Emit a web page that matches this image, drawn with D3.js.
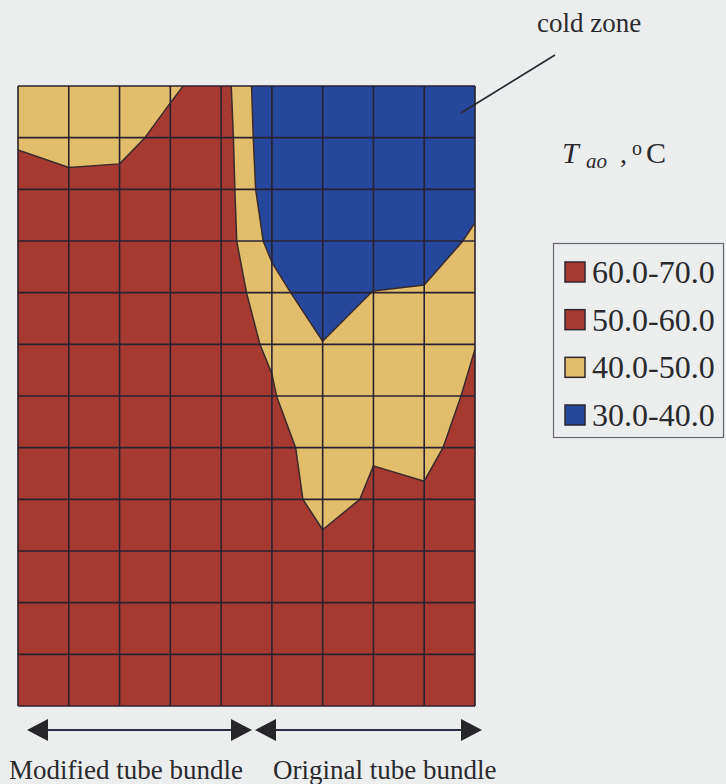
<!DOCTYPE html>
<html>
<head>
<meta charset="utf-8">
<script src="https://cdn.jsdelivr.net/npm/d3@7"></script>
<style>
  html, body { margin: 0; padding: 0; background: #eceeed; }
  svg { display: block; }
</style>
</head>
<body>
<svg id="chart" width="726" height="784"></svg>
<script>
// ---- data: air outlet temperature T_ao (°C) read at the grid nodes ----
// 10 node columns (left→right) x 13 node rows (top→bottom)
const nCols = 10;
const nRows = 13;
const row00 = [45, 45, 45.5, 48.3, 55, 30, 28, 27, 28, 32];
const row01 = [47, 47, 46.5, 53.5, 56.2, 30.6, 28, 27, 29, 34];
const row02 = [59.5, 52.2, 53.4, 56, 56.6, 32.2, 29, 28, 31, 36];
const row03 = [60, 58, 58, 57, 55.9, 36.7, 30, 28, 33, 42.2];
const row04 = [61, 60, 59, 58, 55.3, 44.7, 32, 40.4, 41.2, 46];
const row05 = [61, 61, 60, 58, 52.6, 49.2, 40.5, 45, 46, 49.8];
const row06 = [62, 61, 60, 59, 56, 50.6, 44, 46, 45, 51.9];
const row07 = [62, 62, 61, 60, 57, 54.4, 45, 49.4, 46.3, 56.3];
const row08 = [63, 62, 61, 60, 58, 54.7, 47, 51.1, 52, 58];
const row09 = [63, 63, 62, 61, 59, 57, 52.1, 54, 56, 59];
const row10 = [64, 63, 62, 61, 60, 59, 57, 58, 59, 60];
const row11 = [64, 64, 63, 62, 61, 60, 59, 60, 60, 61];
const row12 = [65, 64, 63, 62, 61, 61, 60, 61, 61, 62];
const rows = [row00, row01, row02, row03, row04, row05, row06, row07, row08, row09, row10, row11, row12];

const bandLow = [30, 40, 50, 60];
const bandHigh = [40, 50, 60, 70];
const bandLabels = ["30.0-40.0", "40.0-50.0", "50.0-60.0", "60.0-70.0"];
const bandColors = ["#25489d", "#e2bd6b", "#a73a30", "#a73a30"];
const regionLabels = ["Modified tube bundle", "Original tube bundle"];

const FONT = '"Liberation Serif", "DejaVu Serif", "Times New Roman", serif';
const INK = "#2a2a2e";

// ---- layout ----
const plot = { left: 18, top: 86, right: 475, bottom: 706 };
const svg = d3.select("#chart");

const x = d3.scaleLinear().domain([0, nCols - 1]).range([plot.left, plot.right]);
const y = d3.scaleLinear().domain([0, nRows - 1]).range([plot.top, plot.bottom]);

// d3.contours places value i at coordinate i+0.5
const proj = d3.geoTransform({
  point(px, py) { this.stream.point(x(px - 0.5), y(py - 0.5)); }
});
const path = d3.geoPath(proj);

const values = rows.flat();
const contours = d3.contours().size([nCols, nRows]).thresholds(bandLow.slice(1))(values);

svg.append("defs").append("clipPath").attr("id", "plotClip")
  .append("rect")
  .attr("x", plot.left).attr("y", plot.top)
  .attr("width", plot.right - plot.left).attr("height", plot.bottom - plot.top);

const g = svg.append("g").attr("clip-path", "url(#plotClip)");

// lowest band as the base
g.append("rect")
  .attr("x", plot.left).attr("y", plot.top)
  .attr("width", plot.right - plot.left).attr("height", plot.bottom - plot.top)
  .attr("fill", bandColors[0]);

g.selectAll("path.band")
  .data(contours)
  .join("path")
  .attr("class", "band")
  .attr("d", path)
  .attr("fill", (d, i) => bandColors[i + 1]);

// contour boundaries (40 and 50)
g.selectAll("path.iso")
  .data(contours.filter(c => c.value < 60))
  .join("path")
  .attr("class", "iso")
  .attr("d", path)
  .attr("fill", "none")
  .attr("stroke", "#3a2a2c")
  .attr("stroke-width", 1.5)
  .attr("stroke-linejoin", "round");

// grid
const gridColor = "#2a2230";
svg.append("g").selectAll("line")
  .data(d3.range(nCols))
  .join("line")
  .attr("x1", d => x(d)).attr("x2", d => x(d))
  .attr("y1", plot.top).attr("y2", plot.bottom)
  .attr("stroke", gridColor).attr("stroke-width", 1.6);

svg.append("g").selectAll("line")
  .data(d3.range(nRows))
  .join("line")
  .attr("y1", d => y(d)).attr("y2", d => y(d))
  .attr("x1", plot.left).attr("x2", plot.right)
  .attr("stroke", gridColor).attr("stroke-width", 1.6);

function label(xp, yp, size, txt, italic) {
  return svg.append("text")
    .attr("x", xp).attr("y", yp)
    .attr("font-family", FONT)
    .attr("font-size", size)
    .attr("font-style", italic ? "italic" : "normal")
    .attr("fill", INK)
    .text(txt);
}

// ---- annotations ----
label(537, 32, 27, "cold zone");
svg.append("line")
  .attr("x1", 555).attr("y1", 55).attr("x2", 461).attr("y2", 113)
  .attr("stroke", INK).attr("stroke-width", 1.6);

// T_ao , °C
label(562, 163, 30, "T", true);
label(586, 168, 21, "ao", true);
label(620, 163, 28, ",");
label(632, 155, 20, "o");
label(646, 163, 30, "C");

// legend (highest band first)
const legend = svg.append("g");
legend.append("rect")
  .attr("x", 553.5).attr("y", 243.5).attr("width", 170).attr("height", 194)
  .attr("fill", "none").attr("stroke", "#6a6a6e").attr("stroke-width", 1.2);

const order = d3.range(bandLabels.length).reverse();
const ly = d3.scalePoint().domain(order).range([272, 415]);
const items = legend.selectAll("g.item").data(order).join("g").attr("class", "item")
  .attr("transform", d => `translate(0,${ly(d)})`);
items.append("rect")
  .attr("x", 565).attr("y", -10).attr("width", 20).attr("height", 20)
  .attr("fill", d => bandColors[d]).attr("stroke", "#2e2630").attr("stroke-width", 1.5);
items.append("text")
  .attr("x", 592).attr("y", 11)
  .attr("font-family", FONT).attr("font-size", 32).attr("fill", INK)
  .text(d => bandLabels[d]);

// bottom arrows
const arrowY = 730;
function arrow(x1, x2) {
  const a = svg.append("g");
  a.append("line").attr("x1", x1 + 10).attr("x2", x2 - 10).attr("y1", arrowY).attr("y2", arrowY)
    .attr("stroke", "#2c2c44").attr("stroke-width", 2);
  a.append("path").attr("d", `M${x1},${arrowY} L${x1 + 21},${arrowY - 11} L${x1 + 21},${arrowY + 11} Z`).attr("fill", "#26262a");
  a.append("path").attr("d", `M${x2},${arrowY} L${x2 - 21},${arrowY - 11} L${x2 - 21},${arrowY + 11} Z`).attr("fill", "#26262a");
}
arrow(27, 252);
arrow(255, 482);

label(9, 779, 27, regionLabels[0]);
label(273, 779, 27, regionLabels[1]);
</script>
</body>
</html>
